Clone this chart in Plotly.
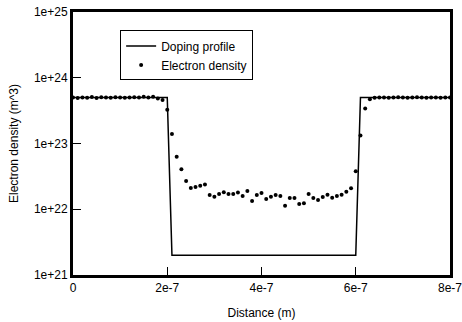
import plotly.graph_objects as go

# Doping profile (step)
doping_x = [0, 2.0e-7, 2.1e-7, 6.0e-7, 6.1e-7, 8.0e-7]
doping_y = [5e23, 5e23, 2e21, 2e21, 5e23, 5e23]

# Electron density samples every 1e-8 m
density_x = [i * 1e-8 for i in range(81)]
density_y = [
    5.0e23, 4.9e23, 5.0e23, 4.95e23, 5.1e23, 4.9e23, 5.05e23, 5.0e23, 4.95e23, 5.05e23,
    5.0e23, 4.95e23, 5.0e23, 5.05e23, 5.0e23, 5.15e23, 5.0e23, 5.15e23, 4.85e23, 4.57e23,
    3.27e23, 1.39e23, 6.3e22, 4.05e22, 2.69e22, 2.1e22, 2.18e22, 2.28e22, 2.37e22, 1.64e22,
    1.55e22, 1.71e22, 1.81e22, 1.71e22, 1.71e22, 1.79e22, 1.59e22, 1.89e22, 1.33e22, 1.64e22,
    1.77e22, 1.43e22, 1.55e22, 1.64e22, 1.59e22, 1.13e22, 1.48e22, 1.48e22, 1.2e22, 1.23e22,
    1.71e22, 1.48e22, 1.38e22, 1.53e22, 1.66e22, 1.5e22, 1.59e22, 1.66e22, 1.85e22, 2.08e22,
    3.78e22, 1.32e23, 3.4e23, 4.7e23, 4.95e23, 5.0e23, 5.0e23, 4.95e23, 5.0e23, 5.05e23,
    5.0e23, 4.95e23, 5.0e23, 5.05e23, 5.0e23, 4.95e23, 5.0e23, 5.0e23, 4.95e23, 5.0e23,
    5.0e23,
]

x_ticks = [0, 2e-7, 4e-7, 6e-7, 8e-7]
x_labels = ["0", "2e-7", "4e-7", "6e-7", "8e-7"]
y_ticks = [1e21, 1e22, 1e23, 1e24, 1e25]
y_labels = ["1e+21", "1e+22", "1e+23", "1e+24", "1e+25"]

FAMILY = "Liberation Sans, Arial, sans-serif"
font = dict(family=FAMILY, size=12, color="black")

fig = go.Figure()
fig.add_trace(go.Scatter(x=doping_x, y=doping_y, mode="lines", name="Doping profile",
                         line=dict(color="black", width=1.5)))
fig.add_trace(go.Scatter(x=density_x, y=density_y, mode="markers", name="Electron density",
                         marker=dict(color="black", size=4)))

fig.update_layout(
    width=462, height=322,
    margin=dict(l=73, r=12, t=12, b=47),
    paper_bgcolor="white", plot_bgcolor="white",
    font=font,
    showlegend=True,
    legend=dict(x=0.125, y=0.93, xanchor="left", yanchor="top",
                bordercolor="black", borderwidth=1, bgcolor="white",
                font=dict(family=FAMILY, size=12, color="black"), tracegroupgap=0),
)
fig.update_xaxes(
    range=[0, 8e-7], tickvals=x_ticks, ticktext=x_labels,
    ticks="inside", ticklen=8, tickwidth=1, tickcolor="black",
    showline=True, linewidth=3, linecolor="black", mirror=True,
    showgrid=False, zeroline=False, automargin=False,
    ticklabeloverflow="allow",
    tickfont=dict(family=FAMILY, size=12, color="black"),
    title=dict(text="Distance (m)", standoff=15,
               font=dict(family=FAMILY, size=12, color="black")),
)
fig.update_yaxes(
    type="log", range=[21, 25], tickvals=y_ticks, ticktext=y_labels,
    ticks="inside", ticklen=8, tickwidth=1, tickcolor="black",
    showline=True, linewidth=3, linecolor="black", mirror=True,
    showgrid=False, zeroline=False, automargin=False,
    ticklabeloverflow="allow",
    tickfont=dict(family=FAMILY, size=12, color="black"),
    title=dict(text="Electron density (m^3)", standoff=13,
               font=dict(family=FAMILY, size=12, color="black")),
)

fig.write_html("out.html")
